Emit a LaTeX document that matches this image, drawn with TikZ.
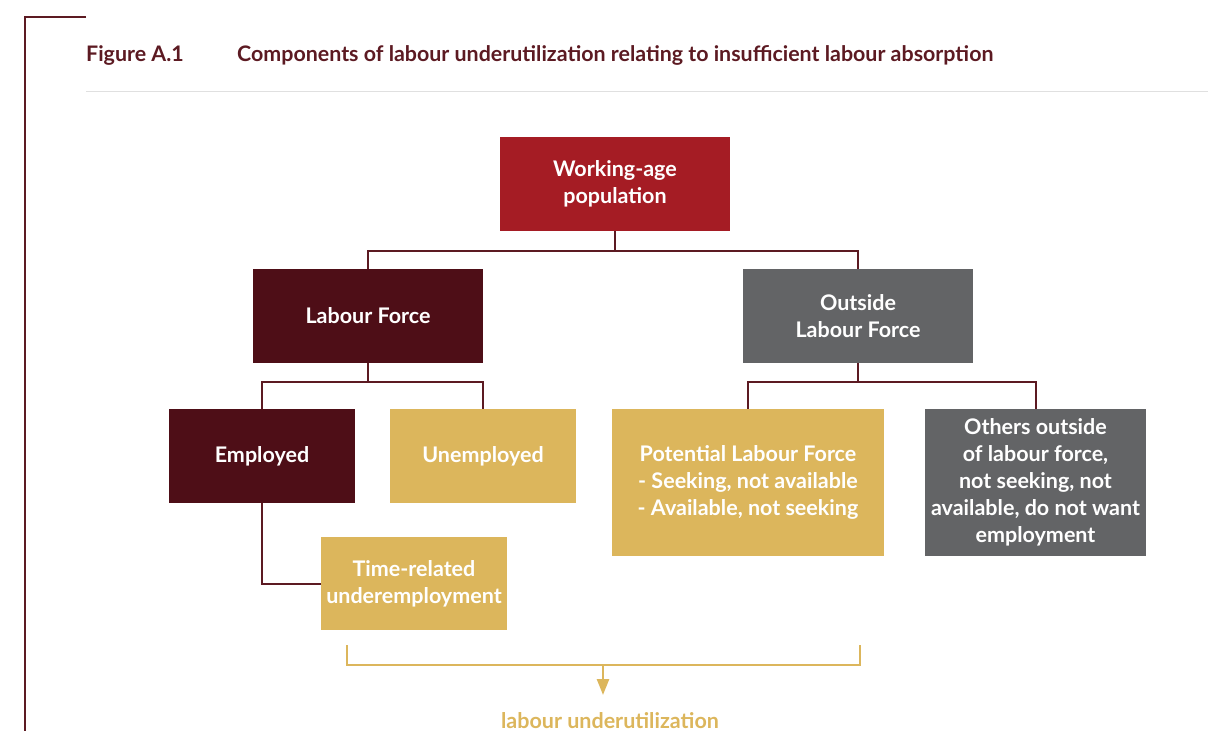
\documentclass[tikz,border=0pt]{standalone}
\usepackage{fontspec}
\setmainfont{Lato}
\usetikzlibrary{arrows.meta}
\definecolor{ilored}{HTML}{A51C24}
\definecolor{ilomaroon}{HTML}{4E0E17}
\definecolor{ilogrey}{HTML}{636466}
\definecolor{ilogold}{HTML}{DCB65C}
\definecolor{iloline}{HTML}{5C1A22}
\tikzstyle{block} = [rectangle, inner sep=0pt, text=white, align=center, font=\fontsize{21.5}{27}\selectfont\bfseries]
\tikzstyle{heading} = [anchor=base west, inner sep=0pt, text=iloline, font=\fontsize{21.4}{24}\selectfont\bfseries]
\tikzstyle{line} = [draw=iloline, line width=2pt]
\tikzstyle{bracket} = [draw=ilogold, line width=2.5pt]

\begin{document}
\begin{tikzpicture}[x=1pt, y=-1pt]
    \useasboundingbox (0,0) rectangle (1208,731);
    % Frame and heading
    \draw[iloline, line width=1.5pt] (86,17) -- (25,17) -- (25,731);
    \draw[black!12, line width=1pt] (86,91) -- (1208,91);
    \node[heading] (fignum) at (86,61) {Figure A.1};
    \node[heading] (figtitle) at (237,61) {Components of labour underutilization relating to insufficient labour absorption};
    % Place nodes
    \node [block, fill=ilored, minimum width=230pt, minimum height=94pt] (workingage) at (615,184) {Working-age\\population};
    \node [block, fill=ilomaroon, minimum width=230pt, minimum height=94pt] (labourforce) at (368,316) {Labour Force};
    \node [block, fill=ilogrey, minimum width=230pt, minimum height=94pt] (outside) at (858,316) {Outside\\Labour Force};
    \node [block, fill=ilomaroon, minimum width=186pt, minimum height=94pt] (employed) at (262,456) {Employed};
    \node [block, fill=ilogold, minimum width=186pt, minimum height=94pt] (unemployed) at (483,456) {Unemployed};
    \node [block, fill=ilogold, minimum width=272pt, minimum height=147pt] (potential) at (748,482.5) {Potential Labour Force\\- Seeking, not available\\- Available, not seeking};
    \node [block, fill=ilogrey, minimum width=221pt, minimum height=147pt] (others) at (1035.5,482.5) {Others outside\\of labour force,\\not seeking, not\\available, do not want\\employment};
    \node [block, fill=ilogold, minimum width=186pt, minimum height=93pt] (timerelated) at (414,583.5) {Time-related\\underemployment};
    \node [text=ilogold, anchor=base, inner sep=0pt, font=\fontsize{21.5}{24}\selectfont\bfseries] (underutil) at (610,728) {labour underutilization};

    % Draw edges
    \path [line] (workingage.south) -- ++(0,20) -| (labourforce.north);
    \path [line] (workingage.south) -- ++(0,20) -| (outside.north);
    \path [line] (labourforce.south) -- ++(0,19) -| (employed.north);
    \path [line] (labourforce.south) -- ++(0,19) -| (unemployed.north);
    \path [line] (outside.south) -- ++(0,19) -| (potential.north);
    \path [line] (outside.south) -- ++(0,19) -| (others.north);
    \path [line] (employed.south) |- (timerelated.west);
    % Bracket over the underutilization groups
    \coordinate (bl) at (347,645);
    \coordinate (br) at (860,645);
    \coordinate (bmid) at (603,665);
    \coordinate (btip) at (603,695);
    \path [bracket] (bl) -- ++(0,20) -| (br);
    \path [bracket, -{Triangle[width=12pt,length=16pt]}] (bmid) -- (btip);
\end{tikzpicture}
\end{document}
